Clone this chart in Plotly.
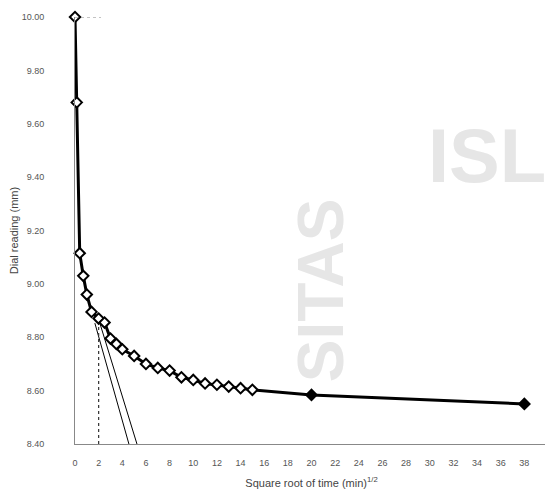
import plotly.graph_objects as go

# Data
sqrt_time = [0, 0.15, 0.4, 0.7, 1.0, 1.4, 2.0, 2.5, 3.0, 3.5, 4.0, 5.0, 6.0, 7.0,
             8.0, 9.0, 10.0, 11.0, 12.0, 13.0, 14.0, 15.0, 20.0, 38.0]
dial_reading = [10.00, 9.68, 9.115, 9.03, 8.96, 8.895, 8.87, 8.855, 8.795, 8.775,
                8.755, 8.73, 8.70, 8.685, 8.675, 8.65, 8.64, 8.627, 8.622, 8.615,
                8.609, 8.603, 8.584, 8.55]
marker_fill = ["white"] * 22 + ["black", "black"]

tangent1_x = [1.68, 4.56]
tangent1_y = [8.853, 8.40]
tangent2_x = [2.10, 5.24]
tangent2_y = [8.853, 8.40]

ref_x = [2.0, 2.0]
ref_y = [8.40, 8.86]

y_ticks = [8.40, 8.60, 8.80, 9.00, 9.20, 9.40, 9.60, 9.80, 10.00]
x_ticks = list(range(0, 41, 2))

fig = go.Figure()

# watermark
fig.add_annotation(xref="paper", yref="paper", x=1.0, y=0.675, xanchor="right", yanchor="middle",
                   text="<b>ISL</b>", showarrow=False,
                   font=dict(family="Liberation Sans", size=76, color="#e6e6e6"))
fig.add_annotation(xref="paper", yref="paper", x=0.52, y=0.36, xanchor="center", yanchor="middle",
                   text="<b>SITAS</b>", textangle=-90, showarrow=False,
                   font=dict(family="Liberation Sans", size=64, color="#e6e6e6"))

fig.add_trace(go.Scatter(x=tangent1_x, y=tangent1_y, mode="lines",
                         line=dict(color="black", width=1), showlegend=False))
fig.add_trace(go.Scatter(x=tangent2_x, y=tangent2_y, mode="lines",
                         line=dict(color="black", width=1), showlegend=False))
fig.add_trace(go.Scatter(x=ref_x, y=ref_y, mode="lines",
                         line=dict(color="#333", width=1.2, dash="dot"), showlegend=False))

fig.add_trace(go.Scatter(x=sqrt_time, y=dial_reading, mode="lines+markers",
                         line=dict(color="black", width=3), cliponaxis=False,
                         marker=dict(symbol="diamond", size=8, color=marker_fill,
                                     line=dict(color="black", width=2)),
                         showlegend=False))

# faint frame pieces
fig.add_shape(type="line", x0=0, x1=2.2, y0=10.0, y1=10.0, xref="x", yref="y",
              line=dict(color="#888", width=1, dash="dot"))
fig.add_shape(type="line", x0=40, x1=40, y0=8.42, y1=9.95, xref="x", yref="y",
              line=dict(color="#888", width=1, dash="dot"))

fig.update_layout(
    width=545, height=492,
    margin=dict(l=67, r=5, t=9, b=56),
    paper_bgcolor="white", plot_bgcolor="white",
    font=dict(family="Liberation Sans", color="#444"),
    xaxis=dict(range=[0, 40], tickvals=x_ticks, showgrid=False, zeroline=False,
               showline=True, linecolor="#888", linewidth=1, automargin=False,
               ticks="", ticklabelstandoff=10,
               tickfont=dict(size=9, color="#555"),
               title=dict(text="Square root of time (min)<sup>1/2</sup>",
                          font=dict(size=11, color="#444"), standoff=12)),
    yaxis=dict(range=[8.40, 10.00], tickvals=y_ticks, tickformat=".2f",
               showgrid=False, zeroline=False,
               showline=True, linecolor="#888", linewidth=1, automargin=False,
               ticks="", ticklabelstandoff=28,
               tickfont=dict(size=9, color="#555"),
               title=dict(text="Dial reading (mm)",
                          font=dict(size=11, color="#444"), standoff=8)),
)

fig.write_html("out.html")
